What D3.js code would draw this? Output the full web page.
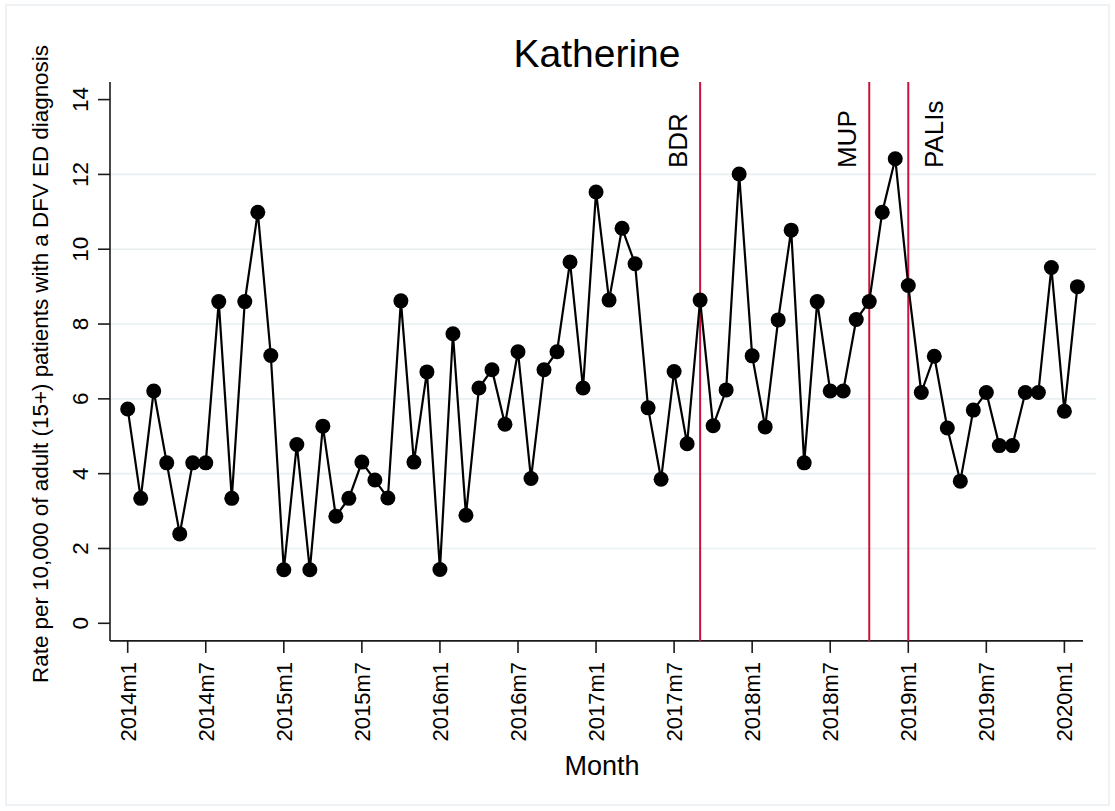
<!DOCTYPE html>
<html>
<head>
<meta charset="utf-8">
<script src="https://cdn.jsdelivr.net/npm/d3@7"></script>
<style>
  body { margin: 0; background: #fff; }
  text { font-family: Arial, "Liberation Sans", sans-serif; fill: #000; }
</style>
</head>
<body>
<div id="chart"></div>
<script>
// monthly rate, 2014m1 .. 2020m2
var months = [];
for (var yr = 2014; yr <= 2020; yr++) {
    for (var m = 1; m <= 12; m++) {
        if (yr == 2020 && m > 2) break;
        months.push(yr + "m" + m);
    }
}
var rates = [
    5.73, 3.34, 6.21, 4.29, 2.39, 4.29, 4.29, 8.60, 3.34, 8.60, 10.99, 7.16,   // 2014
    1.43, 4.78, 1.43, 5.27, 2.86, 3.34, 4.31, 3.83, 3.35, 8.62, 4.31, 6.72,    // 2015
    1.44, 7.74, 2.89, 6.29, 6.78, 5.32, 7.26, 3.87, 6.78, 7.26, 9.66, 6.29,    // 2016
    11.53, 8.64, 10.56, 9.61, 5.76, 3.85, 6.73, 4.80, 8.64, 5.28, 6.24, 12.01, // 2017
    7.15, 5.25, 8.11, 10.51, 4.29, 8.60, 6.21, 6.21, 8.12, 8.60, 10.99, 12.42, // 2018
    9.03, 6.17, 7.14, 5.22, 3.80, 5.70, 6.17, 4.75, 4.75, 6.17, 6.17, 9.51,    // 2019
    5.67, 9.00                                                                 // 2020
];
var xTickLabels = ["2014m1", "2014m7", "2015m1", "2015m7", "2016m1", "2016m7", "2017m1",
                   "2017m7", "2018m1", "2018m7", "2019m1", "2019m7", "2020m1"];
var yTicks = [0, 2, 4, 6, 8, 10, 12, 14];
var events = ["BDR", "MUP", "PALIs"];
var eventMonths = ["2017m9", "2018m10", "2019m1"];

var width = 1115, height = 811;

var x = d3.scaleLinear().domain([0, months.length - 1]).range([127.7, 1077.4]);
var y = d3.scaleLinear().domain([0, 14]).range([623.3, 99.6]);

var svg = d3.select("#chart").append("svg")
    .attr("width", width)
    .attr("height", height);

// outer frame
svg.append("rect")
    .attr("x", 6).attr("y", 5)
    .attr("width", 1103).attr("height", 800)
    .attr("fill", "#fff")
    .attr("stroke", "#e9eef1")
    .attr("stroke-width", 1.5);

var plotLeft = 110, plotRight = 1096, axisRight = x(73.43);
var plotBottom = y(-0.47), plotTop = y(14.47);

// gridlines (not at the extremes)
svg.append("g")
  .selectAll("line")
    .data(yTicks.filter(function(d) { return d > 0 && d < 14; }))
    .enter().append("line")
    .attr("x1", plotLeft).attr("x2", plotRight)
    .attr("y1", function(d) { return y(d); })
    .attr("y2", function(d) { return y(d); })
    .attr("stroke", "#e8f0f2")
    .attr("stroke-width", 1.6);

// y axis
var yAxis = svg.append("g").attr("transform", "translate(" + plotLeft + ",0)");
yAxis.append("line")
    .attr("x1", 0).attr("x2", 0)
    .attr("y1", plotTop).attr("y2", plotBottom)
    .attr("stroke", "#1a1a1a").attr("stroke-width", 1.6);
var yt = yAxis.selectAll(".ytick").data(yTicks).enter().append("g")
    .attr("class", "ytick")
    .attr("transform", function(d) { return "translate(0," + y(d) + ")"; });
yt.append("line").attr("x1", -12).attr("x2", 0)
    .attr("stroke", "#1a1a1a").attr("stroke-width", 1.6);
yt.append("text")
    .attr("transform", "translate(-22,0) rotate(-90)")
    .attr("text-anchor", "middle")
    .style("font-size", "22.5px")
    .text(function(d) { return d; });

// x axis
var xAxis = svg.append("g").attr("transform", "translate(0," + plotBottom + ")");
xAxis.append("line")
    .attr("x1", plotLeft).attr("x2", axisRight)
    .attr("stroke", "#1a1a1a").attr("stroke-width", 1.6);
var xt = xAxis.selectAll(".xtick").data(xTickLabels).enter().append("g")
    .attr("class", "xtick")
    .attr("transform", function(d) { return "translate(" + x(months.indexOf(d)) + ",0)"; });
xt.append("line").attr("y1", 0).attr("y2", 12)
    .attr("stroke", "#1a1a1a").attr("stroke-width", 1.6);
xt.append("text")
    .attr("transform", "translate(8,21) rotate(-90)")
    .attr("text-anchor", "end")
    .style("font-size", "22px")
    .text(function(d) { return d; });

// event lines
var ev = svg.append("g").selectAll("g")
    .data(events)
    .enter().append("g");
ev.append("line")
    .attr("x1", function(d, i) { return x(months.indexOf(eventMonths[i])); })
    .attr("x2", function(d, i) { return x(months.indexOf(eventMonths[i])); })
    .attr("y1", plotTop).attr("y2", plotBottom)
    .attr("stroke", "#c8143c").attr("stroke-width", 2);
ev.append("text")
    .attr("transform", function(d, i) {
        var px = x(months.indexOf(eventMonths[i])) + (i == 2 ? 35 : -13);
        return "translate(" + px + "," + y(12.17) + ") rotate(-90)";
    })
    .attr("text-anchor", "start")
    .style("font-size", "26px")
    .text(function(d) { return d; });

// series
var line = d3.line()
    .x(function(d, i) { return x(i); })
    .y(function(d) { return y(d); });
svg.append("path")
    .datum(rates)
    .attr("d", line)
    .attr("fill", "none")
    .attr("stroke", "#000")
    .attr("stroke-width", 2.2);
svg.append("g")
  .selectAll("circle")
    .data(rates)
    .enter().append("circle")
    .attr("cx", function(d, i) { return x(i); })
    .attr("cy", function(d) { return y(d); })
    .attr("r", 7.5)
    .attr("fill", "#000");

// titles
svg.append("text")
    .attr("x", 597).attr("y", 67)
    .attr("text-anchor", "middle")
    .style("font-size", "39px")
    .text("Katherine");
svg.append("text")
    .attr("x", 602).attr("y", 775)
    .attr("text-anchor", "middle")
    .style("font-size", "27px")
    .text("Month");
svg.append("text")
    .attr("transform", "translate(48,364) rotate(-90)")
    .attr("text-anchor", "middle")
    .style("font-size", "22.4px")
    .text("Rate per 10,000 of adult (15+) patients with a DFV ED diagnosis");
</script>
</body>
</html>
